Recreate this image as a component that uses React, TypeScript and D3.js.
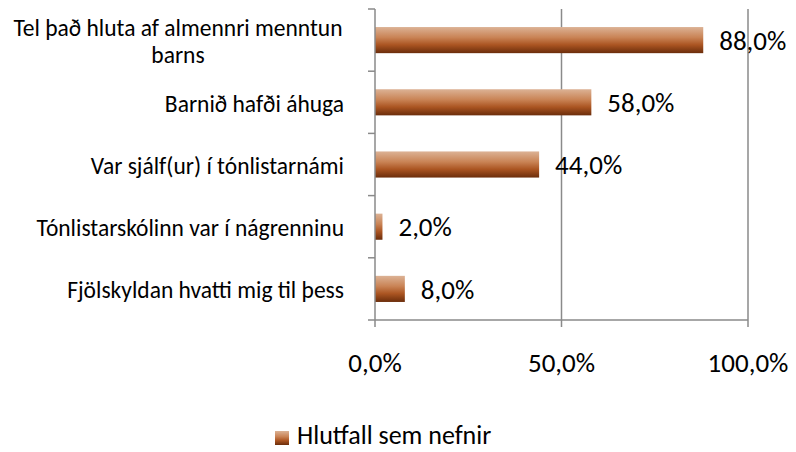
import React from "react";
import * as d3 from "d3";

const width = 796;
const height = 452;

const categories = [
  ["Tel það hluta af almennri menntun", "barns"],
  ["Barnið hafði áhuga"],
  ["Var sjálf(ur) í tónlistarnámi"],
  ["Tónlistarskólinn var í nágrenninu"],
  ["Fjölskyldan hvatti mig til þess"],
];
const values = [88, 58, 44, 2, 8];
const xTicks = [0, 50, 100];
const seriesName = "Hlutfall sem nefnir";

const font = "Calibri, Carlito, Lato, sans-serif";
const axisColor = "#8a8a8a";

const plot = { left: 375, right: 748, top: 9, bottom: 320 };

export default function App() {
  const keys = categories.map((c) => c.join(" "));

  const x = d3.scaleLinear().domain([0, 100]).range([plot.left, plot.right]);
  const y = d3
    .scaleBand<string>()
    .domain(keys)
    .range([plot.top, plot.bottom])
    .paddingInner(0.58)
    .paddingOuter(0.29);

  const step = y.step();
  const gap = (step - y.bandwidth()) / 2;
  const bounds = keys.map((k) => (y(k) as number) - gap);
  bounds.push(plot.bottom);

  const fmt = (v: number) => v.toFixed(1).replace(".", ",") + "%";

  return (
    <svg
      width={width}
      height={height}
      style={{ position: "absolute", left: 0, top: 0, background: "#fff" }}
      fontFamily={font}
    >
      <defs>
        <linearGradient id="barGrad" x1="0" y1="0" x2="0" y2="1">
          <stop offset="0" stopColor="#dcb295" />
          <stop offset="0.4" stopColor="#c98355" />
          <stop offset="0.68" stopColor="#ab5522" />
          <stop offset="1" stopColor="#6b2d0b" />
        </linearGradient>
      </defs>

      {/* gridlines */}
      {xTicks.slice(1).map((t) => (
        <line
          key={"g" + t}
          x1={x(t)}
          x2={x(t)}
          y1={plot.top}
          y2={plot.bottom}
          stroke={axisColor}
          strokeWidth={1.5}
        />
      ))}

      {/* bars */}
      {values.map((v, i) => (
        <rect
          key={keys[i]}
          x={x(0)}
          y={y(keys[i])}
          width={x(v) - x(0)}
          height={y.bandwidth()}
          fill="url(#barGrad)"
        />
      ))}

      {/* value labels */}
      {values.map((v, i) => (
        <text
          key={"v" + i}
          x={x(v) + 16}
          y={(y(keys[i]) as number) + y.bandwidth() / 2}
          dy="0.36em"
          fontSize={27}
          fill="#000"
        >
          {fmt(v)}
        </text>
      ))}

      {/* category axis */}
      <line
        x1={plot.left}
        x2={plot.left}
        y1={plot.top}
        y2={plot.bottom}
        stroke={axisColor}
        strokeWidth={1.5}
      />
      {bounds.map((b, i) => (
        <line
          key={"t" + i}
          x1={plot.left - 7}
          x2={plot.left}
          y1={b}
          y2={b}
          stroke={axisColor}
          strokeWidth={1.5}
        />
      ))}
      {categories.map((lines, i) => {
        const cy = (y(keys[i]) as number) + y.bandwidth() / 2;
        const lh = 27;
        const x0 = lines.length > 1 ? 178 : 344;
        return (
          <text
            key={"c" + i}
            x={x0}
            y={cy - ((lines.length - 1) * lh) / 2}
            fontSize={23.5}
            textAnchor={lines.length > 1 ? "middle" : "end"}
            fill="#000"
          >
            {lines.map((l, j) => (
              <tspan key={j} x={x0} dy={j === 0 ? "0.4em" : lh}>
                {l}
              </tspan>
            ))}
          </text>
        );
      })}

      {/* value axis */}
      <line
        x1={plot.left}
        x2={plot.right}
        y1={plot.bottom}
        y2={plot.bottom}
        stroke={axisColor}
        strokeWidth={1.5}
      />
      {xTicks.map((t) => (
        <g key={"x" + t}>
          <line
            x1={x(t)}
            x2={x(t)}
            y1={plot.bottom}
            y2={plot.bottom + 7}
            stroke={axisColor}
            strokeWidth={1.5}
          />
          <text x={x(t)} y={372} fontSize={27} textAnchor="middle" fill="#000">
            {fmt(t)}
          </text>
        </g>
      ))}

      {/* legend */}
      <rect x={275} y={431} width={14} height={14} fill="url(#barGrad)" />
      <text x={297} y={444} fontSize={26} fill="#000">
        {seriesName}
      </text>
    </svg>
  );
}
